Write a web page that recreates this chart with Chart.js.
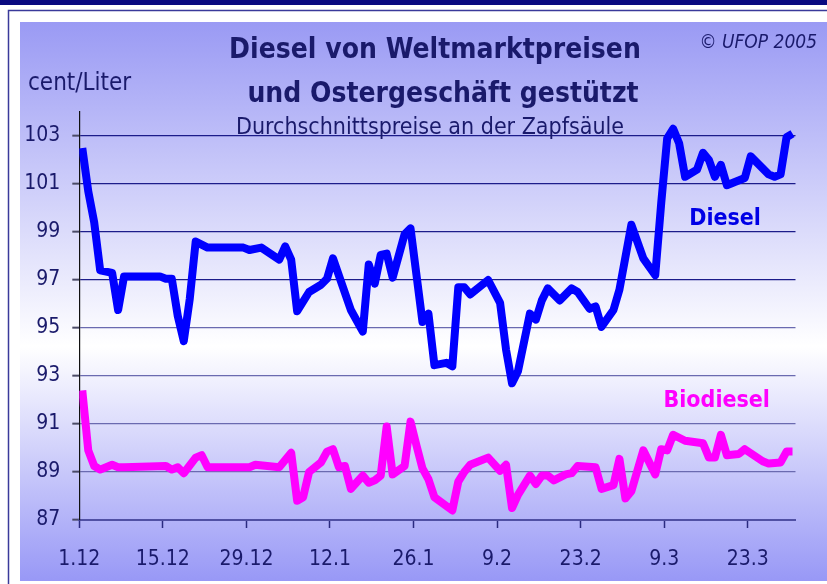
<!DOCTYPE html>
<html>
<head>
<meta charset="utf-8">
<script src="https://cdn.jsdelivr.net/npm/chart.js@4.4.0/dist/chart.umd.min.js"></script>
<style>
html, body { margin: 0; padding: 0; background: #fff; }
canvas { display: block; }
</style>
</head>
<body>
<canvas id="main" width="827" height="584"></canvas>
<script>
// x axis: day index from 1.12.2004, one tick every two weeks
var tickDays = [0, 14, 28, 42, 56, 70, 84, 98, 112];
var tickLabels = ['1.12', '15.12', '29.12', '12.1', '26.1', '9.2', '23.2', '9.3', '23.3'];
var yTicks = [87, 89, 91, 93, 95, 97, 99, 101, 103];

// Diesel, cent/Liter (day index, value)
var dieselDays = [0, 1, 2, 3, 5, 6, 7, 13, 14, 15, 16, 17, 18, 19, 21, 27, 28, 30, 33, 34, 35, 36, 38, 40, 41, 42,
	45, 47, 48, 49, 50, 51, 52, 54, 55, 57, 58, 59, 61, 62, 63, 64, 65, 68, 70, 71, 72, 73, 75, 76, 77, 78, 80,
	82, 83, 85, 86, 87, 89, 90, 92, 94, 96, 97, 98, 99, 100, 101, 103, 104, 105, 106, 107, 108, 111, 112, 115,
	116, 117, 118, 119];
var dieselValues = [102.5, 100.7, 99.4, 97.4, 97.3, 95.75, 97.15, 97.15, 97.05, 97.05, 95.5, 94.45, 96.2, 98.6, 98.35, 98.35, 98.25, 98.35, 97.85, 98.4, 97.85, 95.7, 96.5, 96.8, 97.05, 97.9,
	95.75, 94.85, 97.65, 96.85, 98.05, 98.1, 97.1, 98.9, 99.15, 95.25, 95.6, 93.45, 93.55, 93.4, 96.7, 96.7, 96.4, 97.0, 96.05, 94.1, 92.7, 93.2, 95.6, 95.35, 96.15, 96.65, 96.15,
	96.65, 96.5, 95.8, 95.9, 95.05, 95.75, 96.6, 99.3, 97.9, 97.2, 100.2, 102.9, 103.3, 102.7, 101.3, 101.6, 102.3, 102.0, 101.3, 101.8, 100.95, 101.25, 102.15, 101.4,
	101.3, 101.4, 102.95, 103.1];

// Biodiesel, cent/Liter
var bioDays = [0, 1, 2, 3, 5, 6, 7, 14, 15, 16, 17, 19, 20, 21, 28, 29, 33, 35, 36, 37, 38, 40, 41, 42, 43, 44,
	45, 47, 48, 49, 50, 51, 52, 54, 55, 56, 57, 58, 59, 62, 63, 64, 65, 68, 70, 71, 72, 73, 75, 76, 77, 78, 79,
	81, 82, 83, 86, 87, 89, 90, 91, 92, 94, 96, 97, 98, 99, 101, 104, 105, 106, 107, 108, 110, 111, 114, 115,
	117, 118, 119];
var bioValues = [92.4, 89.9, 89.25, 89.1, 89.3, 89.2, 89.2, 89.25, 89.1, 89.2, 88.95, 89.6, 89.7, 89.2, 89.2, 89.3, 89.2, 89.8, 87.8, 87.95, 89.0, 89.4, 89.85, 89.95, 89.2, 89.25,
	88.3, 88.85, 88.55, 88.65, 88.85, 90.9, 88.9, 89.25, 91.1, 90.1, 89.15, 88.7, 87.95, 87.4, 88.6, 89.0, 89.3, 89.6, 89.05, 89.3, 87.5, 88.05, 88.85, 88.5, 88.85, 88.85, 88.65,
	88.9, 88.95, 89.25, 89.2, 88.3, 88.45, 89.55, 87.9, 88.2, 89.9, 88.9, 89.95, 89.9, 90.55, 90.3, 90.2, 89.6, 89.6, 90.55, 89.7, 89.75, 89.95, 89.45, 89.35,
	89.4, 89.85, 89.85];

var FONT = '"DejaVu Sans Condensed", "Liberation Sans Narrow", "DejaVu Sans", sans-serif';
var NAVY = '#1a1a6b';

function toPoints(days, values){
	var pts = [];
	for (var i=0; i<days.length; i++){
		pts.push({x: days[i] + 0.5, y: values[i]}); // point sits in the middle of its day
	}
	return pts;
}

var frame = {
	id: 'frame',
	beforeDraw: function(chart){
		var ctx = chart.ctx,
			w = chart.width,
			h = chart.height;
		ctx.save();
		ctx.fillStyle = '#fff';
		ctx.fillRect(0, 0, w, h);
		ctx.fillStyle = '#0a0a80';
		ctx.fillRect(0, 0, w, 5);
		ctx.strokeStyle = '#3a3a9a';
		ctx.lineWidth = 1.5;
		ctx.beginPath();
		ctx.moveTo(8.5, h);
		ctx.lineTo(8.5, 10.5);
		ctx.lineTo(w, 10.5);
		ctx.stroke();
		var g = ctx.createLinearGradient(0, 22, 0, 581);
		g.addColorStop(0, '#9a9af4');
		g.addColorStop(0.58, '#ffffff');
		g.addColorStop(1, '#9898f6');
		ctx.fillStyle = g;
		ctx.fillRect(20, 22, w - 20, 581 - 22);
		ctx.restore();
	}
};

var texts = {
	id: 'texts',
	afterDraw: function(chart){
		var ctx = chart.ctx,
			xs = chart.scales.x,
			ys = chart.scales.y;
		ctx.save();
		ctx.fillStyle = NAVY;
		ctx.textBaseline = 'alphabetic';
		ctx.textAlign = 'center';
		ctx.font = 'bold 28px ' + FONT;
		ctx.fillText('Diesel von Weltmarktpreisen', 435, 58);
		ctx.fillText('und Ostergeschäft gestützt', 443, 102);
		ctx.font = '23px ' + FONT;
		ctx.fillText('Durchschnittspreise an der Zapfsäule', 430, 134);
		ctx.textAlign = 'left';
		ctx.font = '24px ' + FONT;
		ctx.fillText('cent/Liter', 28, 90);
		ctx.textAlign = 'right';
		ctx.font = 'italic 19px ' + FONT;
		ctx.fillText('© UFOP 2005', 817, 48);
		// series names
		ctx.textAlign = 'center';
		ctx.textBaseline = 'middle';
		ctx.font = 'bold 23px ' + FONT;
		ctx.fillStyle = '#0000e6';
		ctx.fillText('Diesel', xs.getPixelForValue(108.2), ys.getPixelForValue(99.55));
		ctx.fillStyle = '#ff00ff';
		ctx.fillText('Biodiesel', xs.getPixelForValue(106.8), ys.getPixelForValue(91.95));
		ctx.restore();
	}
};

var ctx = document.getElementById('main').getContext('2d');
Chart.defaults.font.family = FONT;

var chart = new Chart(ctx, {
	type: 'line',
	data: {
		datasets: [{
			label: 'Diesel',
			data: toPoints(dieselDays, dieselValues),
			borderColor: '#0000ff',
			borderWidth: 8,
			pointRadius: 0,
			borderJoinStyle: 'round',
			tension: 0
		}, {
			label: 'Biodiesel',
			data: toPoints(bioDays, bioValues),
			borderColor: '#ff00ff',
			borderWidth: 8,
			pointRadius: 0,
			borderJoinStyle: 'round',
			tension: 0
		}]
	},
	options: {
		responsive: false,
		animation: false,
		layout: {padding: {left: 0, right: 31.5, top: 112, bottom: 0}},
		plugins: {
			legend: {display: false},
			tooltip: {enabled: false}
		},
		scales: {
			x: {
				type: 'linear',
				min: 0,
				max: 120,
				afterBuildTicks: function(axis){
					axis.ticks = tickDays.map(function(v){ return {value: v}; });
				},
				afterFit: function(axis){ axis.height = 64; },
				ticks: {
					autoSkip: false,
					maxRotation: 0,
					padding: 19,
					color: NAVY,
					font: {size: 21},
					callback: function(value){
						var i = tickDays.indexOf(value);
						return i >= 0 ? tickLabels[i] : '';
					}
				},
				grid: {
					drawOnChartArea: false,
					drawTicks: true,
					tickLength: 8,
					tickColor: '#2a2a80',
					tickWidth: 1.5
				},
				border: {color: '#5050a4', width: 2}
			},
			y: {
				min: 87,
				max: 104,
				afterBuildTicks: function(axis){
					axis.ticks = yTicks.map(function(v){ return {value: v}; });
				},
				afterFit: function(axis){ axis.width = 79.3; },
				ticks: {
					padding: 12,
					color: NAVY,
					font: {size: 21}
				},
				grid: {
					color: function(c){ return c.tick && c.tick.value >= 97 ? '#1c1c8a' : '#6a6ab0'; },
					lineWidth: 1.3,
					tickLength: 7,
					tickColor: '#4a4a66',
					tickWidth: 2
				},
				border: {color: '#111', width: 1.2}
			}
		}
	},
	plugins: [frame, texts]
});
</script>
</body>
</html>
